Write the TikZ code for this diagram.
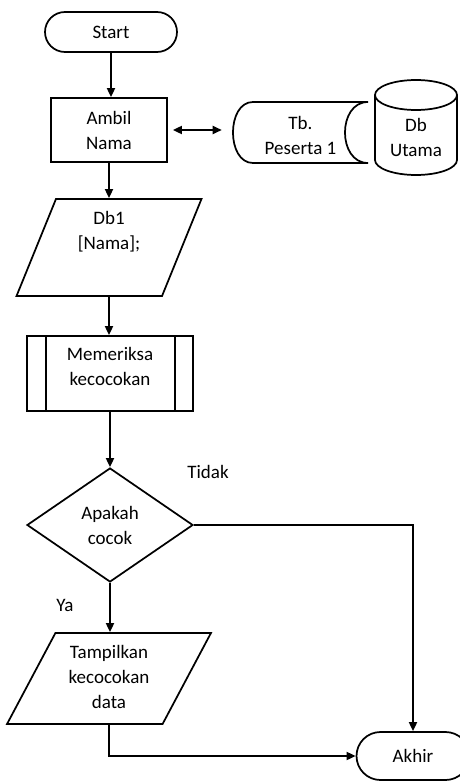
\documentclass[tikz,border=0pt]{standalone}
\usepackage{fontspec}
\setmainfont{Carlito}
\usetikzlibrary{shapes.geometric,shapes.misc,arrows.meta}

\begin{document}
\begin{tikzpicture}[x=0.75pt,y=-0.75pt,
  every node/.style={font=\fontsize{14.25pt}{18.75pt}\selectfont, inner sep=0pt, align=center},
  box/.style={draw, line width=1.3pt},
  term/.style={box, rounded rectangle},
  para/.style={box, trapezium, trapezium stretches=true, inner sep=2pt},
  link/.style={line width=1.3pt},
  tip/.tip={Triangle[length=6.75pt,width=6pt]},
  arr/.style={link, -tip},
]
\useasboundingbox (0,0) rectangle (460,781);
\clip (0,0) rectangle (460,781);

% terminators
\node[term, minimum width=99pt, minimum height=30pt] (start) at (111,32) {Start};
\node[term, minimum width=84.75pt, minimum height=36pt] (end) at (413,756) {Akhir};

% read the name
\node[box, minimum width=87pt, minimum height=48pt] (ambil) at (109,130) {Ambil\\Nama};

% stored data: participant table
\node[minimum width=101.25pt, minimum height=45.75pt] (tb) at (300.5,132.5) {};
\draw[box] (253,102) -- (368,102)
  .. controls (337.3,102) and (337.3,163) .. (368,163) -- (253,163)
  .. controls (226.3,163) and (226.3,102) .. (253,102) -- cycle;
\node (tbt) at (300.5,135.5) {Tb.\\Peserta 1};

% main database cylinder
\node[minimum width=61.5pt, minimum height=71.25pt] (db) at (416,127.5) {};
\draw[box] (416,95) ellipse [x radius=30.75pt, y radius=11.25pt];
\draw[box] (375,95) -- (375,160)
  arc[start angle=180, end angle=360, x radius=30.75pt, y radius=11.25pt] -- (457,95);
\node (dbt) at (416,137) {Db\\Utama};

% input/output Db1
\node[para, trapezium left angle=69.6, trapezium right angle=110.4,
  minimum width=138.75pt, minimum height=72.75pt] (db1) at (109,247.5) {};
\node (db1t) at (109,231.5) {Db1\\{[}Nama{]};};

% predefined process
\node[box, minimum width=124.5pt, minimum height=56.25pt] (sub) at (110,373.5) {};
\draw[box] ([xshift=15pt]sub.north west) -- ([xshift=15pt]sub.south west);
\draw[box] ([xshift=-14.25pt]sub.north east) -- ([xshift=-14.25pt]sub.south east);
\node (subt) at (110,366.5) {Memeriksa\\kecocokan};

% decision
\node[box, diamond, minimum width=124.5pt, minimum height=85.5pt] (dia) at (110,525) {Apakah\\cocok};

% output
\node[para, trapezium left angle=65.7, trapezium right angle=114.3,
  minimum width=153pt, minimum height=68.25pt] (show) at (109,678.5) {};
\node (showt) at (109,677) {Tampilkan\\kecocokan\\data};

% branch labels
\node (tidak) at (208,472) {Tidak};
\node (ya) at (65,605) {Ya};

% connectors
\draw[arr] (start.south) -- (start.south |- ambil.north);
\draw[link, tip-tip, shorten <=3.75pt, shorten >=8.25pt] (ambil.east) -- (ambil.east -| tb.west);
\draw[arr] (ambil.south) -- (ambil.south |- db1.north);
\draw[arr] (db1.south) -- (db1.south |- sub.north);
\draw[arr] (sub.south) -- (sub.south |- dia.north);
\draw[arr] (dia.east) -| (end.north);
\draw[arr] (dia.south) -- (dia.south |- show.north);
\draw[arr] (show.south) |- (end.west);
\end{tikzpicture}
\end{document}
